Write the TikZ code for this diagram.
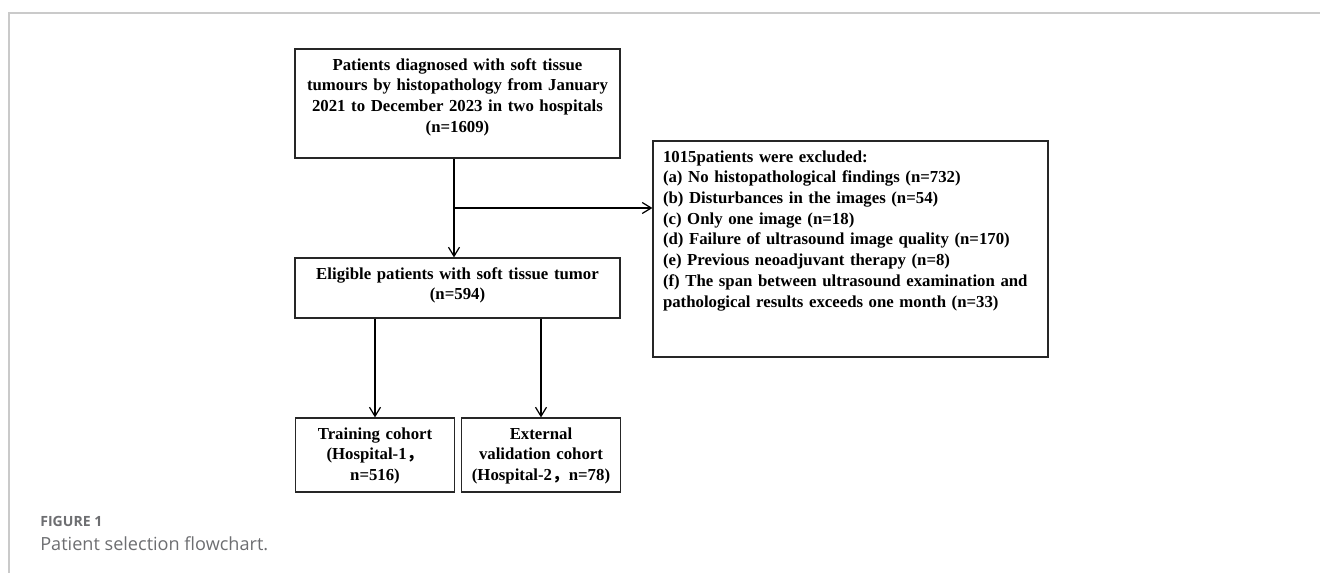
\documentclass[tikz,border=0pt]{standalone}
\usepackage{fontspec}
\setmainfont{Liberation Serif}
\newfontfamily\capfont{Open Sans}
\newfontfamily\cjk{Noto Sans CJK SC}
\usetikzlibrary{arrows.meta}
\definecolor{capgray}{HTML}{6D6E71}
\definecolor{framegray}{HTML}{CACACA}
\tikzset{
  stage/.style={
    rectangle,
    draw=black!85,
    line width=0.7pt,
    inner xsep=0.05cm,
    inner ysep=0.18cm,
    text height=0.24cm,
    align=center,
    font=\bfseries\fontsize{9.55}{11.8}\selectfont
    },
  excl/.style={
    stage,
    inner xsep=0.2cm,
    align=left
    },
  cohort/.style={
    stage,
    text width=3.08cm,
    text depth=0.88cm
    },
  arrow/.style={line width=0.7pt,-{Straight Barb[length=1.8mm,width=2.2mm]}},
  caption/.style={
    anchor=base west,
    inner sep=0pt,
    text=capgray
    }
}

\begin{document}
\begin{tikzpicture}[node distance=0.4cm]
\useasboundingbox (0,0) rectangle (26.4,-11.46);
\draw[framegray, line width=0.6pt] (26.4,-0.26) -| (0.18,-11.46);
\node (start) [stage, text width=6.4cm, text depth=1.58cm] at (9.15,-2.07) {Patients diagnosed with soft tissue\\ tumours by histopathology from January\\ 2021 to December 2023 in two hospitals\\ (n=1609)};
\node (node1) [stage, text width=6.4cm, text depth=0.6cm, below of=start, yshift=-3.29cm] {Eligible patients with soft tissue tumor\\ (n=594)};
\node (node2) [excl, text width=7.5cm, text depth=3.72cm, right of=start, xshift=7.46cm, yshift=-2.91cm] {1015patients were excluded:\\ (a) No histopathological findings (n=732)\\ (b) Disturbances in the images (n=54)\\ (c) Only one image (n=18)\\ (d) Failure of ultrasound image quality (n=170)\\ (e) Previous neoadjuvant therapy (n=8)\\ (f) The span between ultrasound examination and\\ pathological results exceeds one month (n=33)};
\node (node3) [cohort, below of=node1, xshift=-1.65cm, yshift=-2.94cm] {Training cohort\\ (Hospital-1{\cjk ，}\\ n=516)};
\node (node4) [cohort, right of=node3, xshift=2.92cm] {External\\ validation cohort\\ (Hospital-2{\cjk ，}n=78)};
\path (start.south) -- (node1.north) coordinate[pos=0.5] (split);
\draw[arrow] ([xshift=-0.07cm]start.south) -- ([xshift=-0.07cm]node1.north);
\draw[arrow] ([xshift=-0.07cm]split) -- (split -| node2.west);
\draw[arrow] (node1.south -| node3.north) -- (node3.north);
\draw[arrow] (node1.south -| node4.north) -- (node4.north);
\node (figlabel) [caption, font=\capfont\bfseries\fontsize{8}{10}\selectfont] at (0.8,-10.53) {FIGURE 1};
\node (figcap) [caption, font=\capfont\fontsize{10.3}{12}\selectfont] at (0.8,-11.01) {Patient selection flowchart.};
\end{tikzpicture}
\end{document}
